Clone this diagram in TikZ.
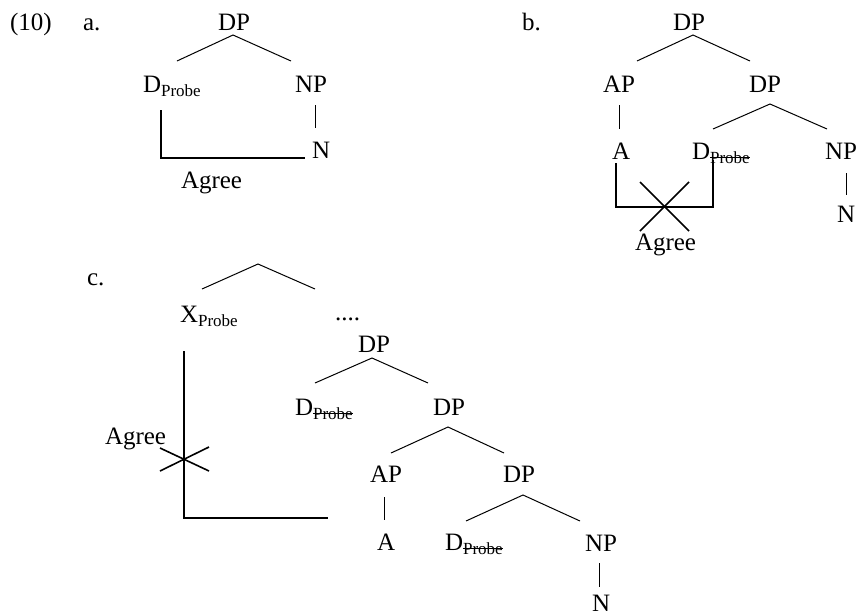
\documentclass[tikz,border=0pt]{standalone}
\usepackage{fontspec}
\setmainfont{Liberation Serif}
\newcommand\psub[1]{\raisebox{-4.5pt}{\fontsize{17}{17}\selectfont #1}}
\newcommand\psubx[1]{\raisebox{-4.5pt}{\fontsize{17}{17}\selectfont\setbox0\hbox{#1}\rlap{\rule[6pt]{\wd0}{1pt}}\box0}}
\begin{document}
\begin{tikzpicture}[x=1pt,y=-1pt,
  lab/.style={anchor=base west,inner sep=0pt,outer sep=0pt,font=\fontsize{25}{30}\selectfont},
  branch/.style={line width=1pt},
  bracket/.style={line width=2pt},
  cross/.style={line width=1.6pt}]
\useasboundingbox (0,0) rectangle (860,614);
% ---------- (a) ----------
\node[lab] (ex) at (10,30) {(10)};
\node[lab] (la) at (83,30) {a.};
\node[lab] (aDP) at (218,30) {DP};
\node[lab] (aD) at (143,92) {D\psub{Probe}};
\node[lab] (aNP) at (295,92) {NP};
\node[lab] (aN) at (312,158) {N};
\node[lab] (aAg) at (181,188) {Agree};
\coordinate (aT) at (233,35);
\coordinate (aL) at (177,61);
\coordinate (aR) at (291,61);
\coordinate (aNPb) at (315.5,105);
\coordinate (aNt) at (315.5,128);
\coordinate (aB1) at (161,110);
\coordinate (aB2) at (161,158);
\coordinate (aB3) at (305,158);
\draw[branch] (aL) -- (aT) -- (aR);
\draw[branch] (aNPb) -- (aNt);
\draw[bracket] (aB1) -- (aB2) -- (aB3);
% ---------- (b) ----------
\node[lab] (lb) at (522,30) {b.};
\node[lab] (bDP) at (673,30) {DP};
\node[lab] (bAP) at (603,92) {AP};
\node[lab] (bDP2) at (749,92) {DP};
\node[lab] (bA) at (612,159) {A};
\node[lab] (bD) at (692,159) {D\psubx{Probe}};
\node[lab] (bNP) at (825,159) {NP};
\node[lab] (bN) at (837,222) {N};
\node[lab] (bAg) at (635,250) {Agree};
\coordinate (bT) at (693,35);
\coordinate (bL) at (637,61);
\coordinate (bR) at (750,61);
\coordinate (bAPb) at (619.5,105);
\coordinate (bAt) at (619.5,129);
\coordinate (bT2) at (770,104);
\coordinate (bL2) at (713,129);
\coordinate (bR2) at (827,129);
\coordinate (bNPb) at (846.5,173);
\coordinate (bNt) at (846.5,195);
\coordinate (bB1) at (616,163);
\coordinate (bB2) at (616,207);
\coordinate (bB3) at (713,207);
\coordinate (bB4) at (713,160);
\coordinate (bX1) at (640,182);
\coordinate (bX2) at (689,231);
\coordinate (bX3) at (689,182);
\coordinate (bX4) at (640,231);
\draw[branch] (bL) -- (bT) -- (bR);
\draw[branch] (bAPb) -- (bAt);
\draw[branch] (bL2) -- (bT2) -- (bR2);
\draw[branch] (bNPb) -- (bNt);
\draw[bracket] (bB1) -- (bB2) -- (bB3) -- (bB4);
\draw[cross] (bX1) -- (bX2);
\draw[cross] (bX3) -- (bX4);
% ---------- (c) ----------
\node[lab] (lc) at (87,285) {c.};
\node[lab] (cX) at (180,322) {X\psub{Probe}};
\node[lab] (cdots) at (335,320) {....};
\node[lab] (cDP1) at (358,352) {DP};
\node[lab] (cD1) at (295,415) {D\psubx{Probe}};
\node[lab] (cDP2) at (433,415) {DP};
\node[lab] (cAP) at (370,482) {AP};
\node[lab] (cDP3) at (503,482) {DP};
\node[lab] (cA) at (377,550) {A};
\node[lab] (cD2) at (445,550) {D\psubx{Probe}};
\node[lab] (cNP) at (585,551) {NP};
\node[lab] (cN) at (592,611) {N};
\node[lab] (cAg) at (105,444) {Agree};
\coordinate (cT0) at (258,264);
\coordinate (cL0) at (202,289);
\coordinate (cR0) at (315,289);
\coordinate (cT1) at (372,358);
\coordinate (cL1) at (315,383);
\coordinate (cR1) at (428,383);
\coordinate (cT2) at (448,427);
\coordinate (cL2) at (391,453);
\coordinate (cR2) at (504,453);
\coordinate (cAPb) at (384.5,497);
\coordinate (cAt) at (384.5,520);
\coordinate (cT3) at (523,495);
\coordinate (cL3) at (466,521);
\coordinate (cR3) at (580,521);
\coordinate (cNPb) at (599.5,563);
\coordinate (cNt) at (599.5,587);
\coordinate (cB1) at (184,351);
\coordinate (cB2) at (184,518);
\coordinate (cB3) at (328,518);
\coordinate (cX1) at (160,448);
\coordinate (cX2) at (209,471);
\coordinate (cX3) at (209,447);
\coordinate (cX4) at (160,471);
\draw[branch] (cL0) -- (cT0) -- (cR0);
\draw[branch] (cL1) -- (cT1) -- (cR1);
\draw[branch] (cL2) -- (cT2) -- (cR2);
\draw[branch] (cAPb) -- (cAt);
\draw[branch] (cL3) -- (cT3) -- (cR3);
\draw[branch] (cNPb) -- (cNt);
\draw[bracket] (cB1) -- (cB2) -- (cB3);
\draw[cross] (cX1) -- (cX2);
\draw[cross] (cX3) -- (cX4);
\end{tikzpicture}
\end{document}
